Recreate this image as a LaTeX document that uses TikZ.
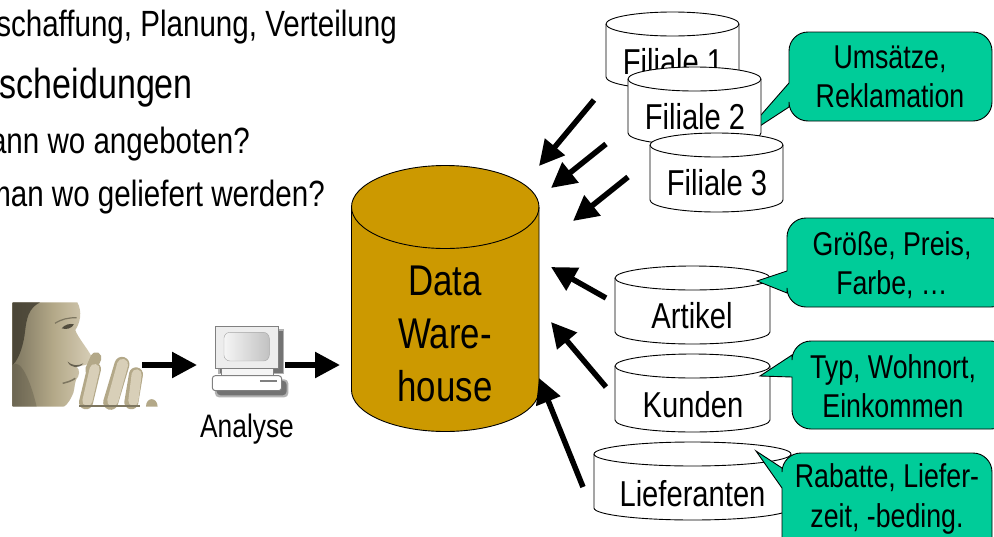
\documentclass[tikz,border=0pt]{standalone}
\usepackage{fontspec}
\setmainfont[FakeStretch=0.81]{Liberation Sans}
\usetikzlibrary{arrows.meta}
\definecolor{dwgold}{HTML}{CC9900}
\definecolor{bubblegreen}{HTML}{00CC99}
\definecolor{skinlight}{HTML}{D8CFB8}
\definecolor{skinmid}{HTML}{B3A888}
\definecolor{skindark}{HTML}{7D7660}
\definecolor{skindeep}{HTML}{3F3B2E}
\tikzset{
  cyl/.style={draw=black,line width=.9pt,fill=#1},
  cyl/.default=white,
  bubble/.style={draw=black,line width=.9pt,fill=bubblegreen},
  flow/.style={line width=5.5pt,draw=black,-{Triangle[length=25pt,width=25pt]}},
  headline/.style={anchor=base east,inner sep=0pt,font=\fontsize{36.5}{40}\selectfont},
  bigline/.style={anchor=base east,inner sep=0pt,font=\fontsize{42}{46}\selectfont},
  dblabel/.style={font=\fontsize{36}{40}\selectfont},
  tiplabel/.style={align=center,font=\fontsize{33}{39.5}\selectfont},
}
\newcommand\cylinder[6]{%
  \pgfmathsetmacro\cylcx{(#1+#2)/2}%
  \pgfmathsetmacro\cylrx{(#2-#1)/2}%
  \path[cyl=#6] (#1,#3)
    .. controls (#1,#3-.5523*#5) and (\cylcx-.5523*\cylrx,#3-#5) .. (\cylcx,#3-#5)
    .. controls (\cylcx+.5523*\cylrx,#3-#5) and (#2,#3-.5523*#5) .. (#2,#3)
    -- (#2,#4)
    .. controls (#2,#4+.5523*#5) and (\cylcx+.5523*\cylrx,#4+#5) .. (\cylcx,#4+#5)
    .. controls (\cylcx-.5523*\cylrx,#4+#5) and (#1,#4+.5523*#5) .. (#1,#4)
    -- cycle;
  \draw[line width=.9pt] (#1,#3)
    .. controls (#1,#3+.5523*#5) and (\cylcx-.5523*\cylrx,#3+#5) .. (\cylcx,#3+#5)
    .. controls (\cylcx+.5523*\cylrx,#3+#5) and (#2,#3+.5523*#5) .. (#2,#3);
}
\begin{document}
\begin{tikzpicture}[x=1pt,y=-1pt]
\useasboundingbox (0,0) rectangle (994,536);
\clip (0,0) rectangle (994,536);
\fill[white] (0,0) rectangle (994,536);

% text upper left
\node[headline] (t1) at (397,36) {schaffung, Planung, Verteilung};
\node[bigline] (t2) at (193,98) {scheidungen};
\node[headline] (t3) at (250,153) {ann wo angeboten?};
\node[headline] (t4) at (325,206) {man wo geliefert werden?};

% data warehouse
\cylinder{351.5}{539}{207}{390}{41.5}{dwgold}
\node[align=center,font=\fontsize{43}{53}\selectfont] (dw) at (445,334) {Data\\Ware-\\house};

% photo
\begin{scope}[shift={(0,295)},x=.3333pt,y=-.3333pt]
  \path[left color=skindark,right color=skinlight,middle color=skinmid]
    (38,22) -- (232,22) .. controls (248,50) and (240,85) .. (226,105)
    .. controls (232,125) and (262,160) .. (275,185) .. controls (280,200) and (265,212) .. (240,212)
    -- (230,215) .. controls (240,225) and (240,240) .. (228,255)
    .. controls (222,270) and (225,290) .. (215,305) .. controls (205,325) and (195,335) .. (190,335) -- (38,335) -- cycle;
  \fill[skindeep,opacity=.8] (38,22) -- (120,22) .. controls (85,40) and (80,70) .. (75,110)
    .. controls (72,140) and (60,190) .. (38,210) -- cycle;
  \fill[skindeep,opacity=.25] (38,210) .. controls (60,190) and (90,250) .. (110,335) -- (38,335) -- cycle;
  \fill[skindeep,opacity=.85] (185,100) .. controls (195,88) and (210,85) .. (222,88) .. controls (215,100) and (200,105) .. (185,100) -- cycle;
  \draw[skindark,line width=1.2pt] (165,85) .. controls (185,72) and (205,68) .. (230,68);
  \fill[skindeep,opacity=.7] (203,200) .. controls (215,212) and (235,214) .. (250,205) .. controls (238,222) and (212,220) .. (203,200) -- cycle;
  \draw[skindark,line width=1.5pt] (188,265) .. controls (200,262) and (215,258) .. (226,250);
  \draw[skinmid,line width=11pt,line cap=round] (272,225) -- (288,188);
  \draw[skinmid,line width=14pt,line cap=round] (258,322) -- (282,222);
  \draw[skinlight,line width=10pt,line cap=round] (262,318) -- (284,222);
  \draw[skinmid,line width=15pt,line cap=round] (332,322) -- (366,208);
  \draw[skinlight,line width=11pt,line cap=round] (338,318) -- (368,208);
  \draw[skinmid,line width=14pt,line cap=round] (394,322) -- (408,238);
  \draw[skinlight,line width=10pt,line cap=round] (400,318) -- (410,238);
  \fill[skindark] (236,330) rectangle (420,335);
  \fill[skinmid] (438,335) .. controls (438,305) and (472,305) .. (473,335) -- cycle;
\end{scope}
\coordinate (man) at (142,365);

% computer
\begin{scope}[shift={(0,280)},x=.3333pt,y=-.3333pt]
  \fill[black!30] (655,148) rectangle (853,282);
  \fill[black!55] (660,152) rectangle (848,278);
  \fill[black!30,rounded corners=4pt] (645,298) rectangle (865,352);
  \fill[black!55,rounded corners=4pt] (650,302) rectangle (860,346);
  \draw[black!50,fill=black!7,line width=1pt] (648,140) rectangle (835,265);
  \shade[left color=black!4,right color=black!24,draw=black!35,rounded corners=6pt] (672,157) rectangle (808,243);
  \draw[black!50,fill=black!4,line width=1pt] (665,265) rectangle (820,287);
  \draw[black!50,fill=white,line width=1pt,rounded corners=3pt] (637,287) rectangle (845,332);
  \draw[black!50,line width=1.2pt] (780,303) -- (830,303);
\end{scope}
\coordinate (pcin) at (197,365);
\coordinate (pcout) at (285,365);
\coordinate (dwin) at (340,365);
\node[font=\fontsize{32.5}{36}\selectfont,anchor=base] (analyse) at (247,437) {Analyse};

\draw[flow] (man) -- (pcin);
\draw[flow] (pcout) -- (dwin);

% filialen and first callout
\cylinder{606}{739}{24}{77}{12}{white}
\node[dblabel,anchor=base] (f1) at (673,74) {Filiale 1};
\path[bubble,rounded corners=19pt] (890,32) -- (992,32) -- (992,121) -- (789,121)
  [sharp corners] -- (789,107) -- (740,139) -- (789,83) [rounded corners=19pt] -- (789,32) -- cycle;
\node[tiplabel] (umsatz) at (890,77) {Umsätze,\\Reklamation};
\cylinder{628}{761}{79}{133}{12}{white}
\node[dblabel,anchor=base] (f2) at (695,129) {Filiale 2};
\cylinder{650}{783}{145}{200}{12}{white}
\node[dblabel,anchor=base] (f3) at (717,195) {Filiale 3};

% master data
\cylinder{615}{770}{278}{332}{12}{white}
\node[dblabel,anchor=base] (artikel) at (692,328) {Artikel};
\cylinder{615}{770}{366}{420}{12}{white}
\node[dblabel,anchor=base] (kunden) at (693,417) {Kunden};
\cylinder{594}{791}{454}{508}{12}{white}
\node[dblabel,anchor=base] (liefer) at (692.5,506) {Lieferanten};

% callouts
\path[bubble,rounded corners=19pt] (890,218) -- (1010,218) -- (1010,307) -- (787,307)
  [sharp corners] -- (787,293) -- (757,281) -- (787,271) [rounded corners=19pt] -- (787,218) -- cycle;
\node[tiplabel] (groesse) at (892,265) {Größe, Preis,\\Farbe, …};
\path[bubble,rounded corners=19pt] (890,341) -- (1010,341) -- (1010,429) -- (792,429)
  [sharp corners] -- (792,377) -- (760,376) -- (792,355) [rounded corners=19pt] -- (792,341) -- cycle;
\node[tiplabel] (typ) at (893,386) {Typ, Wohnort,\\Einkommen};
\path[bubble,rounded corners=19pt] (890,453) -- (992,453) -- (992,560) -- (782,560)
  [sharp corners] -- (782,488) -- (756,451) -- (782,468) [rounded corners=19pt] -- (782,453) -- cycle;
\node[tiplabel] (rabatt) at (887,499) {Rabatte, Liefer-\\zeit, -beding.};

% arrows
\coordinate (a1s) at (594,100); \coordinate (a1e) at (539,166);
\coordinate (a2s) at (606,144); \coordinate (a2e) at (551,188);
\coordinate (a3s) at (628,177); \coordinate (a3e) at (573,221);
\coordinate (a4s) at (606,298); \coordinate (a4e) at (551,267);
\coordinate (a5s) at (606,387); \coordinate (a5e) at (551,322);
\coordinate (a6s) at (583,487); \coordinate (a6e) at (539,378);
\foreach \n in {1,...,6} {\draw[flow] (a\n s) -- (a\n e);}
\end{tikzpicture}
\end{document}
